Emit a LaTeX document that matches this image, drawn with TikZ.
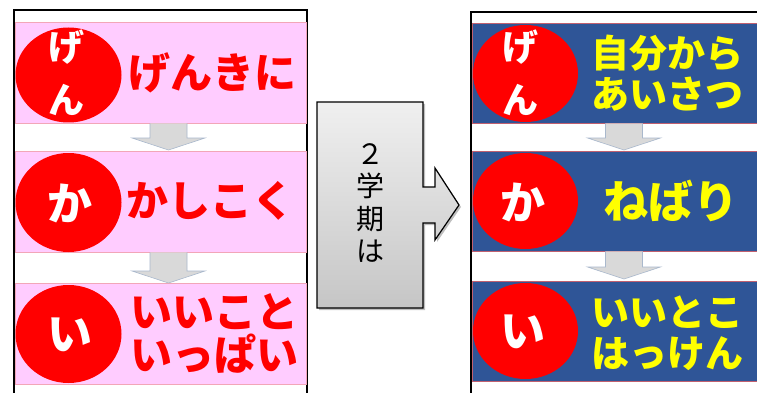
\documentclass[tikz,border=0pt]{standalone}
\usepackage{fontspec}
\newfontfamily\jp{Noto Sans CJK JP}
\usetikzlibrary{shapes.geometric,calc}
\definecolor{pinkfill}{HTML}{FFCCFF}
\definecolor{pinkline}{HTML}{F2A6B8}
\definecolor{bandblue}{HTML}{2F5597}
\definecolor{blueline}{HTML}{C06070}
\definecolor{arrowgray}{HTML}{D9D9D9}
\definecolor{arrowline}{HTML}{A9B8CC}
\definecolor{txtyellow}{HTML}{FFFF00}
\newcommand\downarr[3]{%
  \draw[garrow] (#1-18.5,#2) -- (#1-18.5,#3-12) -- (#1-36.5,#3-12) -- (#1,#3)
    -- (#1+36.5,#3-12) -- (#1+18.5,#3-12) -- (#1+18.5,#2);}
\begin{document}
\begin{tikzpicture}[x=1pt,y=-1pt,
  frame/.style={draw=black,line width=1.5pt},
  lband/.style={draw=pinkline,fill=pinkfill,line width=0.6pt,minimum width=291pt,minimum height=101pt,inner sep=0pt},
  rband/.style={draw=blueline,fill=bandblue,line width=0.6pt,minimum width=287pt,minimum height=100pt,inner sep=0pt},
  badge/.style={ellipse,fill=red,inner sep=0pt,minimum width=106pt},
  badgetxt/.style={text=white,align=center,inner sep=0pt,font=\jp\bfseries\fontsize{36}{53}\selectfont},
  badgebig/.style={text=white,align=center,inner sep=0pt,font=\jp\bfseries\fontsize{45}{45}\selectfont},
  ltxt/.style={text=red,align=center,inner sep=0pt,font=\jp\bfseries\fontsize{42}{43}\selectfont},
  rtxt/.style={text=txtyellow,align=center,inner sep=0pt,font=\jp\bfseries\fontsize{38}{41}\selectfont},
  garrow/.style={fill=arrowgray,draw=arrowline,line width=0.6pt},
  midtxt/.style={align=center,inner sep=0pt,font=\jp\fontsize{28}{32.5}\selectfont}]
\useasboundingbox (0,0) rectangle (757,393);
\fill[white] (0,0) rectangle (757,393);
% frames
\draw[frame] (14,393) -- (14,10) -- (307,10) -- (307,393);
\draw[frame] (471,393) -- (471,12) -- (760,12);
% left bands
\node[lband] (lb1) at (160.5,72.5) {};
\node[lband] (lb2) at (160.5,201.5) {};
\node[lband] (lb3) at (160.5,334) {};
\downarr{168.5}{123.3}{150}
\downarr{168.5}{252.3}{283}
\node[badge,minimum height=95pt] (lc1) at (68.5,75) {};
\node[badge,minimum height=99pt] (lc2) at (68.5,202.5) {};
\node[badge,minimum height=98pt] (lc3) at (68.5,334) {};
\node[badgetxt] (lt1) at (66,73) {げ\\ん};
\node[badgebig] (lt2) at (70,203) {か};
\node[badgebig] (lt3) at (70,335) {い};
\node[ltxt] (lx1) at (212,73) {げんきに};
\node[ltxt] (lx2) at (210,201) {かしこく};
\node[ltxt] (lx3) at (214,333) {いいこと\\いっぱい};
% middle arrow
\fill[black,opacity=0.25] (319,104) -- (425,104) -- (425,189) -- (437,189) -- (437,170) -- (461,207) -- (437,242) -- (437,225) -- (425,225) -- (425,310) -- (319,310) -- cycle;
\shade[top color=gray!12,bottom color=gray!45,draw=black,line width=1.2pt]
  (317,102) -- (423,102) -- (423,187) -- (435,187) -- (435,168) -- (459,205) -- (435,240) -- (435,223) -- (423,223) -- (423,308) -- (317,308) -- cycle;
\node[midtxt] (mt) at (370,203) {２\\学\\期\\は};
% right bands
\node[rband] (rb1) at (615.5,73) {};
\node[rband] (rb2) at (615.5,201) {};
\node[rband] (rb3) at (615.5,331) {};
\downarr{624}{123.3}{150}
\downarr{624}{251.3}{279}
\node[badge,minimum width=105pt,minimum height=97pt] (rc1) at (525.5,73.5) {};
\node[badge,minimum width=105pt,minimum height=96pt] (rc2) at (525.5,201) {};
\node[badge,minimum width=105pt,minimum height=96pt] (rc3) at (525.5,331) {};
\node[badgetxt] (rt1) at (520,73) {げ\\ん};
\node[badgebig] (rt2) at (523,202) {か};
\node[badgebig] (rt3) at (523,332) {い};
\node[rtxt] (rx1) at (667,73) {自分から\\あいさつ};
\node[rtxt,font=\jp\bfseries\fontsize{45}{45}\selectfont] (rx2) at (671,201) {ねばり};
\node[rtxt] (rx3) at (667,333) {いいとこ\\はっけん};
\end{tikzpicture}
\end{document}
